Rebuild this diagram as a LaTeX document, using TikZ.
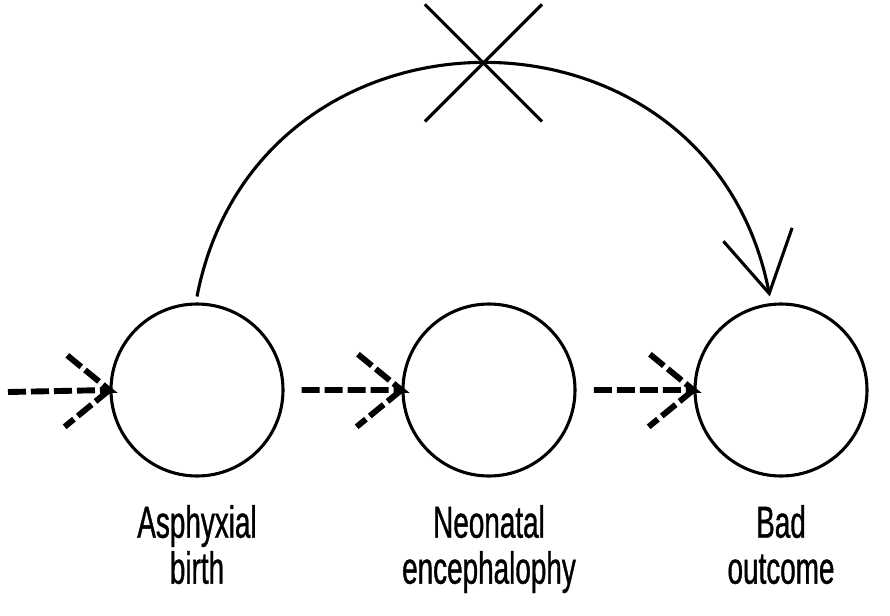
\documentclass[tikz,border=0pt]{standalone}
\usepackage{fontspec}
\newfontfamily\condfont[FakeStretch=0.62, FakeBold=0.8]{Liberation Sans}
\usetikzlibrary{positioning, arrows.meta, shapes.misc}

\begin{document}
\begin{tikzpicture}[line width=2.2pt,
        state/.style={circle, draw, minimum size=4.3cm, inner sep=0pt},
        caption/.style={font=\condfont\fontsize{32}{32.7}\selectfont, align=center, inner sep=0pt},
        causal/.style={line width=4.2pt, dash pattern=on 0.45cm off 0.125cm}]
        \useasboundingbox (0,0) rectangle (22.25,-15.375);

        \node[state] (asph) at (4.925,-9.75) {};
        \node[state] (neo) at (12.225,-9.75) {};
        \node[state] (bad) at (19.525,-9.75) {};

        \node[caption, below=0.65cm of asph] (asphtext) {Asphyxial\\birth};
        \node[caption, below=0.65cm of neo] (neotext) {Neonatal\\encephalophy};
        \node[caption, below=0.65cm of bad] (badtext) {Bad\\outcome};

        \coordinate (in) at (0.2,-9.8);
        \draw[causal] (in) -- (asph.west) -- ++(-1.12,0.92) (asph.west) -- ++(-1.12,-0.92);
        \draw[causal] ([xshift=0.43cm]asph.east) -- (neo.west) -- ++(-1.12,0.92) (neo.west) -- ++(-1.12,-0.92);
        \draw[causal] ([xshift=0.43cm]neo.east) -- (bad.west) -- ++(-1.12,0.92) (bad.west) -- ++(-1.12,-0.92);

        \draw[-{Straight Barb[length=1.5cm, width=1.75cm]}] ([yshift=0.15cm]asph.north)
            to[out=79, in=101, looseness=1.42] node[cross out, draw, minimum size=2.85cm, inner sep=0pt] (cut) {}
            ([xshift=-0.28cm, yshift=0.15cm]bad.north);
\end{tikzpicture}
\end{document}
